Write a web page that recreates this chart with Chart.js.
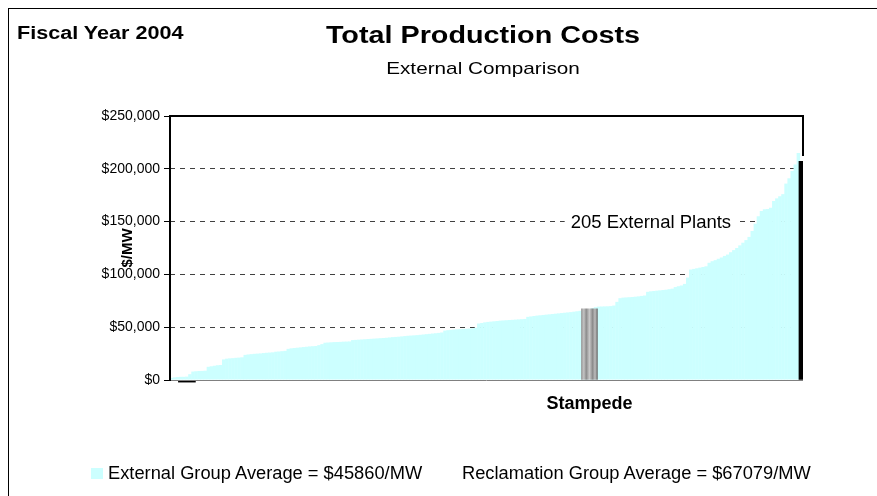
<!DOCTYPE html>
<html>
<head>
<meta charset="utf-8">
<script src="https://cdn.jsdelivr.net/npm/chart.js@4"></script>
<style>
  body { margin: 0; width: 877px; height: 496px; overflow: hidden; background: #fff; font-family: "Liberation Sans", Arial, sans-serif; }
  #frame { position: absolute; left: 8px; top: 8px; width: 1000px; height: 1000px; border: 1px solid #000; }
  #wrap { position: absolute; left: 0; top: 0; width: 877px; height: 496px; }
  .txt { position: absolute; white-space: nowrap; color: #000; line-height: 1.15; }
  #fy { left: 17px; top: 23px; font-size: 18px; font-weight: bold; transform: scaleX(1.2); transform-origin: left center; }
  #title { left: 483px; top: 22px; font-size: 23px; font-weight: bold; transform: translateX(-50%) scaleX(1.25); }
  #subtitle { left: 483px; top: 59px; font-size: 17px; transform: translateX(-50%) scaleX(1.22); }
  #swatch { position: absolute; left: 91px; top: 468px; width: 12px; height: 11px; background: #ccffff; }
  #legend1 { left: 108px; top: 462px; font-size: 18.3px; }
  #legend2 { left: 462px; top: 462px; font-size: 18.3px; }
</style>
</head>
<body>
<div id="frame"></div>
<div id="wrap"><canvas id="costChart" width="877" height="496"></canvas></div>
<div class="txt" id="fy">Fiscal Year 2004</div>
<div class="txt" id="title">Total Production Costs</div>
<div class="txt" id="subtitle">External Comparison</div>
<div id="swatch"></div>
<div class="txt" id="legend1">External Group Average = $45860/MW</div>
<div class="txt" id="legend2">Reclamation Group Average = $67079/MW</div>
<script>
// External plants, sorted low to high ($/MW), one slot per bar
const externalCosts = [
    2000, 2500, 2800, 3000, 3000, 3200, 5500, 8000, 8300, 8500,
    8600, 8800, 12500, 13000, 13500, 14000, 14200, 19500, 20200, 20500,
    20700, 21000, 21200, 21500, 23800, 24200, 24500, 24800, 25000, 25200,
    25500, 25800, 26000, 26200, 26800, 27000, 27300, 27600, 29500, 30000,
    30300, 30600, 30900, 31200, 31500, 31800, 32000, 32200, 33000, 34000,
    35300, 35500, 35700, 35900, 36000, 36100, 36300, 36400, 36500, 37800,
    38000, 38200, 38400, 38600, 38800, 39000, 39200, 39400, 39600, 39800,
    40000, 40300, 40600, 40800, 41000, 41300, 41600, 41900, 42100, 42300,
    42500, 42800, 43100, 43400, 43700, 44000, 44300, 44600, 45000, 46800,
    47200, 47500, 47800, 48000, 48200, 48400, 48500, 48700, 48900, 49500,
    53500, 54000, 54600, 55000, 55300, 55600, 55900, 56200, 56400, 56600,
    56800, 57000, 57200, 57400, 57600, 57800, 59800, 60200, 60600, 61000,
    61300, 61600, 61900, 62200, 62500, 62800, 63100, 63400, 63700, 64000,
    64300, 64700, 65100, 65500, 65900, 66500, 67000, 68000, 69000, 69500,
    69600, 69700, 69800, 70000, 70500, 74000, 77500, 78000, 78200, 78400,
    78600, 78900, 79200, 79600, 80000, 83500, 84000, 84300, 84600, 84900,
    85200, 85500, 86000, 86500, 88000, 88800, 89500, 91000, 97000, 104600,
    105200, 105800, 106400, 107000, 107700, 111000, 112500, 113500, 114800, 116000,
    117500, 118800, 121000, 123000, 125000, 127500, 130000, 132500, 135500, 141000,
    148000, 155000, 160000, 161600, 162000, 163000, 169500, 172000, 174000, 176000,
    186000, 191000, 198000, 204000, 215000, null
];

const stampedeIndex = 136;
const stampedeCost = 67500;

// Reclamation plants drawn in black (slot, value)
const reclamationLowIndex = 5;
const reclamationLowCost = -2000;
const reclamationHighIndex = 205;
const reclamationHighCost = 207000;

const yTicks = [0, 50000, 100000, 150000, 200000, 250000];
const annotationText = '205 External Plants';
const annotationIndex = 156;
const annotationValue = 150000;

const categories = externalCosts.map((v, i) => i === stampedeIndex ? 'Stampede' : '');
const onlyAt = (idx, val) => externalCosts.map((v, i) => i === idx ? val : null);

const FONT = '"Liberation Sans", Arial, sans-serif';

const stampedeFill = ctx => {
    const chart = ctx.chart;
    if (!chart.chartArea || !chart.scales.x) return '#a8a8a8';
    const x = chart.scales.x.getPixelForValue(stampedeIndex);
    const g = chart.ctx.createLinearGradient(x - 8, 0, x + 8, 0);
    g.addColorStop(0, '#9a9a9a');
    g.addColorStop(0.15, '#c4c4c4');
    g.addColorStop(0.3, '#8c8c8c');
    g.addColorStop(0.5, '#c8c8c8');
    g.addColorStop(0.7, '#8a8a8a');
    g.addColorStop(0.85, '#bdbdbd');
    g.addColorStop(1, '#6e6e6e');
    return g;
};

// plot frame + annotation label
const framePlugin = {
    id: 'frame',
    afterDatasetsDraw(chart) {
        const { ctx, chartArea: a, scales } = chart;
        ctx.save();
        ctx.strokeStyle = '#808080';
        ctx.lineWidth = 1;
        ctx.beginPath();
        ctx.moveTo(a.left, a.bottom + 0.5);
        ctx.lineTo(a.right, a.bottom + 0.5);
        ctx.stroke();
        ctx.strokeStyle = '#000';
        ctx.lineWidth = 2;
        ctx.beginPath();
        ctx.moveTo(a.left, a.bottom + 1);
        ctx.lineTo(a.left, a.top);
        ctx.lineTo(a.right, a.top);
        ctx.lineTo(a.right, a.top + 40);
        ctx.stroke();

        const x = scales.x.getPixelForValue(annotationIndex);
        const y = scales.y.getPixelForValue(annotationValue);
        ctx.font = '18.5px ' + FONT;
        const w = ctx.measureText(annotationText).width;
        ctx.fillStyle = '#fff';
        ctx.fillRect(x - w / 2 - 6, y - 10, w + 12, 20);
        ctx.fillStyle = '#000';
        ctx.textAlign = 'center';
        ctx.textBaseline = 'middle';
        ctx.fillText(annotationText, x, y + 1);
        ctx.restore();
    }
};

new Chart(document.getElementById('costChart'), {
    type: 'bar',
    data: {
        labels: categories,
        datasets: [
            {
                label: 'Reclamation',
                data: onlyAt(reclamationHighIndex, reclamationHighCost),
                backgroundColor: '#000',
                barThickness: 5,
                order: 1
            },
            {
                label: 'Reclamation low',
                data: onlyAt(reclamationLowIndex, reclamationLowCost),
                backgroundColor: '#000',
                barThickness: 17,
                clip: false,
                order: 1
            },
            {
                label: 'Stampede',
                data: onlyAt(stampedeIndex, stampedeCost),
                backgroundColor: stampedeFill,
                barThickness: 16,
                order: 2
            },
            {
                label: 'External Group',
                data: externalCosts,
                backgroundColor: '#ccffff',
                barPercentage: 1.15,
                categoryPercentage: 1,
                order: 3
            }
        ]
    },
    options: {
        responsive: false,
        animation: false,
        events: [],
        layout: { padding: { left: 80, right: 74, top: 116, bottom: 76 } },
        datasets: { bar: { grouped: false, categoryPercentage: 1, barPercentage: 1 } },
        plugins: {
            legend: { display: false },
            tooltip: { enabled: false }
        },
        scales: {
            x: {
                grid: { display: false, drawTicks: false },
                border: { display: false },
                ticks: {
                    autoSkip: false,
                    maxRotation: 0,
                    padding: 13,
                    color: '#000',
                    font: { family: FONT, size: 18, weight: 'bold' },
                    callback: (v, i) => categories[i]
                },
                afterFit: s => { s.height = 40; }
            },
            y: {
                min: 0,
                max: 250000,
                afterBuildTicks: s => { s.ticks = yTicks.map(v => ({ value: v })); },
                grid: {
                    color: '#404040',
                    lineWidth: 1,
                    tickLength: 6,
                    tickColor: '#000',
                    tickWidth: 1
                },
                border: { display: false, dash: [5, 5] },
                ticks: {
                    padding: 4,
                    color: '#000',
                    font: { family: FONT, size: 14 },
                    callback: v => '$' + Number(v).toLocaleString('en-US')
                },
                title: {
                    display: true,
                    text: '$/MW',
                    color: '#000',
                    padding: { top: 39, bottom: 0 },
                    font: { family: FONT, size: 15, weight: 'bold' }
                },
                afterFit: s => { s.width = 90; }
            }
        }
    },
    plugins: [framePlugin]
});
</script>
</body>
</html>
